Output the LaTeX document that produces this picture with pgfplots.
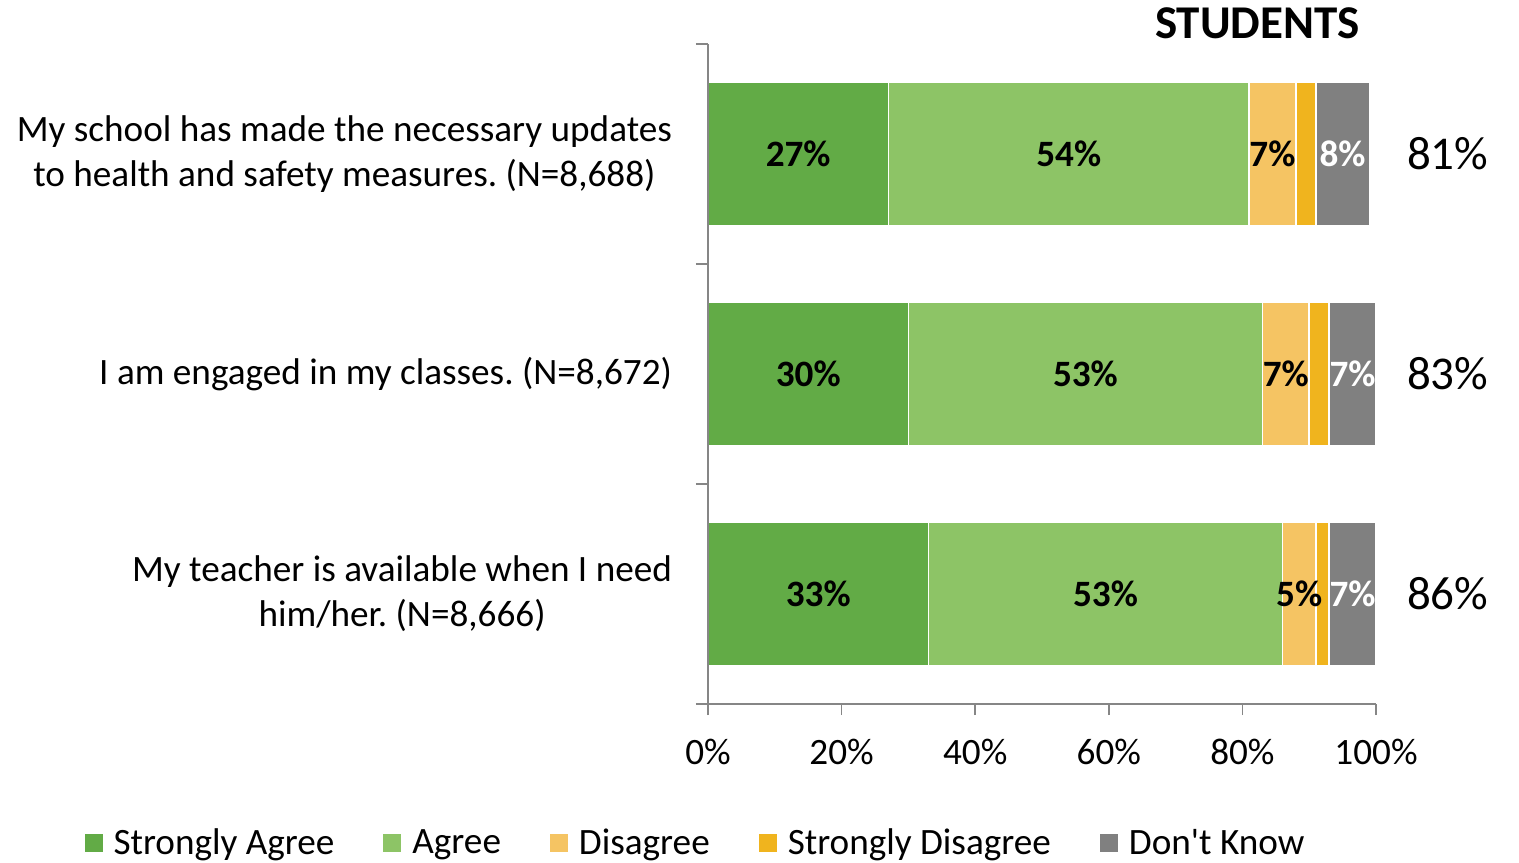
\documentclass[border=0pt]{standalone}
\usepackage{pgfplots}
\pgfplotsset{compat=1.18}
\usepackage{pgfplotstable}
\usepackage{fontspec}
\setmainfont{Carlito}

\definecolor{cSA}{RGB}{98,171,70}
\definecolor{cAG}{RGB}{141,196,102}
\definecolor{cDI}{RGB}{245,196,99}
\definecolor{cSD}{RGB}{240,180,30}
\definecolor{cDK}{RGB}{128,128,128}
\definecolor{axgray}{RGB}{134,134,134}

% y: 3 = top row
\pgfplotstableread{
y sa ag di sd dk
3 27 54 7 3 8
2 30 53 7 3 7
1 33 53 5 2 7
}\survey

\begin{document}
\frenchspacing
\begin{tikzpicture}
\begin{axis}[
  at={(0,0)}, anchor=south west,
  scale only axis, width=334pt, height=330pt,
  clip=false, axis on top,
  /pgf/number format/assume math mode=true,
  xbar stacked, bar width=72pt,
  xmin=0, xmax=100, ymin=0.5, ymax=3.5,
  axis x line*=bottom, axis y line*=left,
  axis line style={draw=axgray, line width=0.8pt},
  tick style={draw=axgray, line width=0.8pt},
  tick align=outside,
  major tick length=5.5pt,
  xtick={0,20,...,100},
  xticklabels={0\%,20\%,40\%,60\%,80\%,100\%},
  ytick={1,2,3},
  yticklabels={{My teacher is available when I need\\him/her. (N=8,666)},
               {I am engaged in my classes. (N=8,672)},
               {My school has made the necessary updates\\to health and safety measures. (N=8,688)}},
  major y tick style={draw=none},
  minor ytick={0.5,1.5,2.5,3.5},
  minor tick length=6pt,
  tick label style={font=\fontsize{18.6}{22.5}\selectfont},
  yticklabel style={align=center, xshift=-9pt},
  xticklabel style={yshift=-8.5pt},
  legend style={at={(-0.012,-0.2106)}, anchor=center, draw=none,
    font=\fontsize{18.6}{22}\selectfont, legend columns=5,
    nodes={inner xsep=5.5pt},
    /tikz/every even column/.append style={column sep=19pt}},
  legend image code/.code={\fill[#1,draw=none] (0pt,-4.5pt) rectangle (9pt,4.5pt);},
  every node near coord/.append style={font=\bfseries\fontsize{18.6}{22}\selectfont, anchor=center},
]
\addplot[fill=cSA, draw=white, line width=0.8pt,
  visualization depends on={\thisrow{sa} \as \rawv},
  nodes near coords={\pgfmathprintnumber{\rawv}\%}]
  table[x=sa, y=y]{\survey};
\addlegendentry{Strongly Agree}
\addplot[fill=cAG, draw=white, line width=0.8pt,
  visualization depends on={\thisrow{ag} \as \rawv},
  nodes near coords={\pgfmathprintnumber{\rawv}\%}]
  table[x=ag, y=y]{\survey};
\addlegendentry{Agree}
\addplot[fill=cDI, draw=white, line width=0.8pt,
  visualization depends on={\thisrow{di} \as \rawv},
  nodes near coords={\pgfmathprintnumber{\rawv}\%}]
  table[x=di, y=y]{\survey};
\addlegendentry{Disagree}
\addplot[fill=cSD, draw=white, line width=0.8pt]
  table[x=sd, y=y]{\survey};
\addlegendentry{Strongly Disagree}
\addplot[fill=cDK, draw=white, line width=0.8pt,
  visualization depends on={\thisrow{dk} \as \rawv},
  nodes near coords={\pgfmathprintnumber{\rawv}\%},
  every node near coord/.append style={text=white}]
  table[x=dk, y=y]{\survey};
\addlegendentry{Don\textquotesingle t Know}

\node[anchor=west, inner sep=0pt, font=\fontsize{23.5}{28}\selectfont] at (axis cs:104.6,3) {81\%};
\node[anchor=west, inner sep=0pt, font=\fontsize{23.5}{28}\selectfont] at (axis cs:104.6,2) {83\%};
\node[anchor=west, inner sep=0pt, font=\fontsize{23.5}{28}\selectfont] at (axis cs:104.6,1) {86\%};
\node[anchor=base east, inner sep=0pt, font=\bfseries\fontsize{23.5}{28}\selectfont]
  at (rel axis cs:0.976,1) [yshift=3pt] {STUDENTS};
\end{axis}
\pgfresetboundingbox
\path (-354pt,-79pt) rectangle (405.5pt,352pt);
\end{tikzpicture}
\end{document}
